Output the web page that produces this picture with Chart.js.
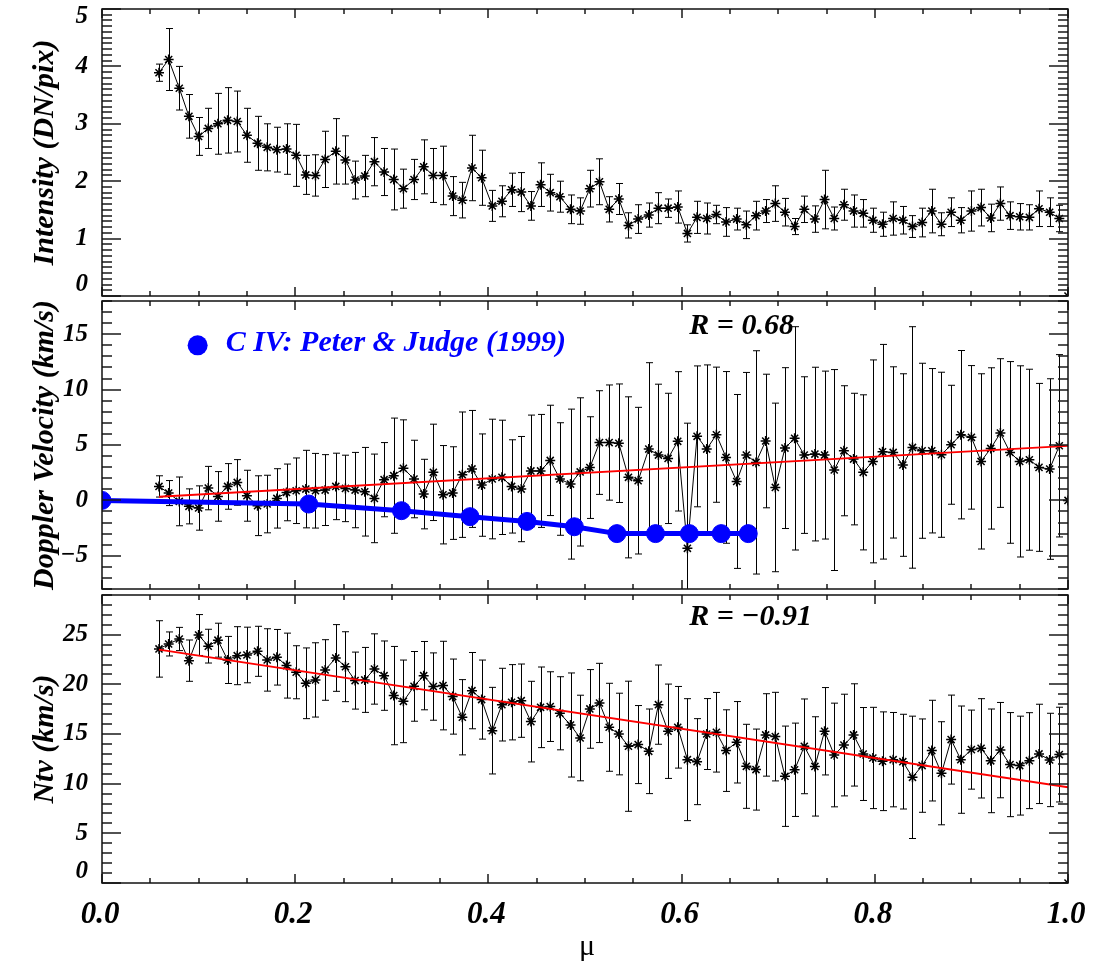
<!DOCTYPE html>
<html>
<head>
<meta charset="utf-8">
<script src="https://cdn.jsdelivr.net/npm/chart.js@4.4.1/dist/chart.umd.min.js"></script>
<style>
  html, body { margin: 0; padding: 0; background: #fff; }
  #wrap { position: relative; width: 1094px; height: 965px; }
  #wrap canvas { position: absolute; left: 0; top: 0; }
</style>
</head>
<body>
<div id="wrap">
  <canvas id="intensity" width="1094" height="965"></canvas>
  <canvas id="doppler" width="1094" height="965"></canvas>
  <canvas id="ntv" width="1094" height="965"></canvas>
</div>
<script>
// mu = cos(theta) of each bin
const mu = [0.059, 0.069, 0.080, 0.090, 0.100, 0.110, 0.120, 0.130, 0.140, 0.150,
  0.161, 0.171, 0.181, 0.191, 0.201, 0.211, 0.221, 0.231, 0.242, 0.252,
  0.262, 0.272, 0.282, 0.292, 0.302, 0.312, 0.323, 0.333, 0.343, 0.353,
  0.363, 0.373, 0.383, 0.393, 0.404, 0.414, 0.424, 0.434, 0.444, 0.454,
  0.464, 0.474, 0.485, 0.495, 0.505, 0.515, 0.525, 0.535, 0.545, 0.555,
  0.566, 0.576, 0.586, 0.596, 0.606, 0.616, 0.626, 0.636, 0.646, 0.657,
  0.667, 0.677, 0.687, 0.697, 0.707, 0.717, 0.727, 0.738, 0.748, 0.758,
  0.768, 0.778, 0.788, 0.798, 0.808, 0.819, 0.829, 0.839, 0.849, 0.859,
  0.869, 0.879, 0.889, 0.900, 0.910, 0.920, 0.930, 0.940, 0.950, 0.960,
  0.970, 0.981, 0.991];

const intensity = [3.89, 4.12, 3.62, 3.13, 2.78, 2.92, 3.00, 3.06, 3.04, 2.80,
  2.66, 2.59, 2.55, 2.56, 2.45, 2.11, 2.10, 2.38, 2.52, 2.37,
  2.02, 2.09, 2.34, 2.16, 2.03, 1.87, 2.03, 2.25, 2.10, 2.10,
  1.74, 1.67, 2.23, 2.06, 1.57, 1.65, 1.85, 1.81, 1.57, 1.94,
  1.80, 1.73, 1.51, 1.48, 1.87, 1.99, 1.51, 1.69, 1.23, 1.34,
  1.41, 1.53, 1.53, 1.55, 1.09, 1.37, 1.35, 1.42, 1.29, 1.34,
  1.24, 1.40, 1.48, 1.61, 1.46, 1.21, 1.51, 1.34, 1.68, 1.35,
  1.59, 1.48, 1.44, 1.32, 1.25, 1.35, 1.32, 1.21, 1.28, 1.48,
  1.25, 1.46, 1.32, 1.48, 1.54, 1.36, 1.61, 1.40, 1.38, 1.37,
  1.52, 1.46, 1.35];
const intensityErr = [0.15, 0.54, 0.38, 0.38, 0.33, 0.35, 0.53, 0.57, 0.53, 0.47,
  0.47, 0.41, 0.39, 0.44, 0.54, 0.34, 0.36, 0.49, 0.57, 0.42,
  0.33, 0.36, 0.42, 0.41, 0.53, 0.34, 0.35, 0.47, 0.47, 0.51,
  0.34, 0.31, 0.57, 0.48, 0.27, 0.27, 0.29, 0.34, 0.25, 0.38,
  0.32, 0.27, 0.25, 0.23, 0.32, 0.40, 0.22, 0.27, 0.22, 0.25,
  0.21, 0.27, 0.16, 0.28, 0.15, 0.28, 0.27, 0.16, 0.25, 0.19,
  0.24, 0.25, 0.20, 0.31, 0.24, 0.14, 0.23, 0.23, 0.51, 0.20,
  0.27, 0.28, 0.24, 0.21, 0.21, 0.29, 0.24, 0.19, 0.25, 0.38,
  0.20, 0.25, 0.22, 0.35, 0.32, 0.24, 0.29, 0.24, 0.23, 0.22,
  0.31, 0.25, 0.23];

const doppler = [1.26, 0.66, -0.09, -0.54, -0.69, 1.11, 0.36, 1.26, 1.62, 0.42,
  -0.48, -0.33, 0.18, 0.72, 0.87, 1.02, 0.87, 0.93, 1.26, 1.08,
  0.93, 0.78, 0.18, 1.87, 2.23, 2.89, 1.93, 0.57, 2.53, 0.51,
  0.66, 2.32, 2.84, 1.38, 1.93, 2.08, 1.26, 1.02, 2.66, 2.66,
  3.61, 1.93, 1.47, 2.57, 2.96, 5.22, 5.22, 5.16, 2.08, 1.78,
  4.63, 4.09, 3.79, 5.33, -4.33, 5.78, 4.63, 5.93, 3.88, 1.71,
  4.09, 3.43, 5.36, 1.17, 4.72, 5.60, 4.09, 4.18, 4.09, 2.74,
  4.48, 3.73, 2.53, 3.52, 4.39, 4.33, 3.19, 4.78, 4.48, 4.48,
  4.12, 5.02, 5.93, 5.69, 3.52, 4.69, 6.08, 4.33, 3.52, 3.67,
  2.98, 2.83, 4.93];
const dopplerErr = [0.96, 1.13, 2.20, 1.58, 2.00, 1.96, 2.24, 2.06, 2.06, 2.30,
  2.70, 2.60, 2.68, 2.56, 2.96, 3.50, 3.37, 3.20, 3.00, 3.00,
  3.40, 4.00, 4.00, 3.35, 5.20, 4.38, 3.50, 3.14, 4.35, 4.44,
  4.18, 5.66, 5.28, 4.62, 5.40, 5.16, 4.21, 4.75, 5.04, 5.10,
  4.98, 5.08, 6.77, 6.69, 4.59, 4.68, 5.20, 5.35, 7.27, 6.62,
  7.80, 6.40, 5.88, 6.29, 11.30, 6.36, 7.60, 6.10, 7.75, 7.85,
  7.46, 10.08, 6.03, 7.61, 7.26, 10.08, 7.07, 7.84, 7.58, 9.07,
  5.87, 5.94, 7.00, 9.16, 9.69, 7.73, 8.24, 10.90, 7.90, 7.42,
  7.45, 5.37, 7.60, 6.48, 7.91, 7.28, 6.71, 8.20, 8.63, 8.17,
  7.58, 8.15, 8.23];

const ntv = [23.57, 24.07, 24.57, 22.39, 24.97, 23.85, 24.45, 22.46, 22.89, 22.96,
  23.33, 22.46, 22.73, 21.89, 21.22, 20.11, 20.45, 21.45, 22.66, 21.78,
  20.38, 20.45, 21.55, 20.88, 18.87, 18.29, 19.80, 20.88, 19.78, 19.88,
  18.77, 16.69, 19.37, 18.47, 15.34, 17.96, 18.20, 18.36, 16.25, 17.69,
  17.76, 17.09, 15.91, 14.60, 17.53, 18.13, 15.68, 15.00, 13.77, 13.94,
  13.26, 17.96, 15.28, 15.68, 12.42, 12.22, 15.00, 15.18, 13.33, 14.17,
  11.75, 11.42, 14.91, 14.74, 10.75, 11.40, 13.76, 11.74, 15.28, 12.89,
  13.89, 14.91, 12.99, 12.59, 12.26, 12.42, 12.22, 10.64, 11.82, 13.33,
  11.05, 14.44, 12.42, 13.43, 13.56, 12.30, 13.38, 11.92, 11.82, 12.32,
  13.00, 12.39, 12.93];
const ntvErr = [2.84, 1.21, 1.17, 2.08, 2.06, 1.70, 1.71, 2.37, 2.92, 2.80,
  2.52, 3.14, 2.80, 3.27, 2.67, 3.56, 3.74, 3.05, 3.36, 3.52,
  2.87, 3.27, 3.54, 3.49, 4.95, 4.16, 3.51, 3.44, 3.39, 4.46,
  3.78, 3.79, 3.84, 3.98, 4.36, 3.66, 3.79, 3.69, 4.06, 4.06,
  3.51, 3.68, 5.24, 4.31, 3.96, 3.99, 4.43, 4.11, 6.55, 3.93,
  4.26, 3.99, 4.75, 4.11, 6.14, 4.33, 3.57, 4.01, 4.11, 4.10,
  4.23, 4.08, 4.15, 4.46, 5.05, 4.70, 4.77, 5.00, 4.40, 5.22,
  5.12, 5.15, 4.68, 5.10, 4.97, 4.75, 4.77, 6.16, 4.70, 5.07,
  5.19, 4.48, 5.40, 3.98, 5.00, 5.22, 4.80, 5.24, 4.98, 4.83,
  5.00, 4.70, 4.77];

// empty bin at disc centre, plotted as zero
const centreMu = [1.0];
const centreValue = [0];

// linear fits
const fitMu = [0.059, 1.0];
const dopplerFit = [0.33, 4.93];
const ntvFit = [23.5, 9.64];

// C IV, Peter & Judge (1999)
const pjMu = [0, 0.214, 0.310, 0.381, 0.440, 0.489, 0.533, 0.573, 0.608, 0.641, 0.669];
const pjVelocity = [0, -0.33, -0.93, -1.47, -1.90, -2.38, -3.0, -3.0, -3.0, -3.0, -3.0];

const xTickValues = [0, 0.2, 0.4, 0.6, 0.8, 1.0];
const xTickLabels = ['0.0', '0.2', '0.4', '0.6', '0.8', '1.0'];
const intensityTicks = [0, 1, 2, 3, 4, 5];
const dopplerTicks = [-5, 0, 5, 10, 15];
const ntvTicks = [0, 5, 10, 15, 20, 25];

const SERIF = '"Liberation Serif", "DejaVu Serif", serif';
const BLUE = '#0000ff';
const RED = '#ff0000';

const pts = (xs, ys) => xs.map((x, i) => ({ x: x, y: ys[i] }));

function starStyle(ds) {
  return Object.assign({
    borderColor: '#000', borderWidth: 1,
    pointStyle: 'star', pointRadius: 5, pointBorderWidth: 1.5,
    pointBorderColor: '#000', pointBackgroundColor: '#000',
    order: 2
  }, ds);
}

function series(ys, errs) {
  return starStyle({ data: pts(mu, ys), yErr: errs });
}

function centre() {
  return starStyle({ data: pts(centreMu, centreValue), showLine: false });
}

function fitLine(ys) {
  return { data: pts(fitMu, ys), borderColor: RED, borderWidth: 1.8, pointRadius: 0, order: 1 };
}

// per-panel axis setup, looked up by canvas id
const axesFor = {};

// inward tick marks on all four sides plus the frame
function drawFrame(ctx, a, o) {
  const w = a.right - a.left;
  const h = a.bottom - a.top;
  ctx.save();
  ctx.fillStyle = '#1a1a1a';
  for (let k = 0; k <= 20; k++) {
    const px = Math.round(a.left + w * k / 20);
    const len = k % 4 === 0 ? 9 : 5;
    ctx.fillRect(px - 0.75, a.bottom - len, 1.5, len);
    ctx.fillRect(px - 0.75, a.top, 1.5, len);
  }
  const ratio = Math.round(o.yMajor / o.yMinor);
  const k0 = Math.ceil(o.yMin / o.yMinor - 1e-6);
  const k1 = Math.floor(o.yMax / o.yMinor + 1e-6);
  for (let k = k0; k <= k1; k++) {
    const py = Math.round(a.bottom - h * (k * o.yMinor - o.yMin) / (o.yMax - o.yMin));
    const len = Math.abs(k % ratio) === 0 ? 19 : 10;
    ctx.fillRect(a.left, py - 0.75, len, 1.5);
    ctx.fillRect(a.right - len, py - 0.75, len, 1.5);
  }
  ctx.strokeStyle = '#111';
  ctx.lineWidth = 1.5;
  ctx.strokeRect(a.left, a.top, w, h);
  ctx.restore();
}

// IDL-style panel: error bars, frame, labels
const idlAxes = {
  id: 'idlAxes',
  beforeDatasetsDraw(chart) {
    const { ctx, chartArea: a, scales: { x, y } } = chart;
    ctx.save();
    ctx.beginPath();
    ctx.rect(a.left, a.top, a.right - a.left, a.bottom - a.top);
    ctx.clip();
    ctx.strokeStyle = '#000';
    ctx.lineWidth = 1;
    chart.data.datasets.forEach(ds => {
      if (!ds.yErr) return;
      ds.data.forEach((p, i) => {
        const px = Math.round(x.getPixelForValue(p.x)) + 0.5;
        const hi = y.getPixelForValue(p.y + ds.yErr[i]);
        const lo = y.getPixelForValue(p.y - ds.yErr[i]);
        ctx.beginPath();
        ctx.moveTo(px, hi); ctx.lineTo(px, lo);
        ctx.moveTo(px - 3.5, hi); ctx.lineTo(px + 3.5, hi);
        ctx.moveTo(px - 3.5, lo); ctx.lineTo(px + 3.5, lo);
        ctx.stroke();
      });
    });
    ctx.restore();
  },
  afterDraw(chart) {
    const o = axesFor[chart.canvas.id];
    const { ctx, chartArea: a, scales: { x, y } } = chart;
    drawFrame(ctx, a, o);
    ctx.save();

    // y tick labels, kept inside the panel's height
    ctx.fillStyle = '#000';
    ctx.font = 'bold italic 25px ' + SERIF;
    ctx.textAlign = 'right';
    ctx.textBaseline = 'middle';
    o.yTicks.forEach(v => {
      const py = Math.min(Math.max(y.getPixelForValue(v), a.top + 8), a.bottom - 11);
      ctx.fillText(String(v).replace('-', '\u2212'), a.left - 14, py);
    });

    // y title
    ctx.save();
    ctx.translate(45, (a.top + a.bottom) / 2);
    ctx.rotate(-Math.PI / 2);
    ctx.textAlign = 'center';
    ctx.font = 'bold italic 30px ' + SERIF;
    ctx.fillText(o.title, 0, 0);
    ctx.restore();

    // x labels on the bottom panel
    if (o.xLabels) {
      ctx.textAlign = 'center';
      ctx.textBaseline = 'alphabetic';
      ctx.font = 'bold italic 31px ' + SERIF;
      xTickValues.forEach((v, i) => {
        ctx.fillText(xTickLabels[i], x.getPixelForValue(v) - 2, a.bottom + 40);
      });
      ctx.font = '30px ' + SERIF;
      ctx.fillText('\u03bc', (a.left + a.right) / 2 + 2, a.bottom + 72);
    }

    // text notes placed in data coordinates
    ctx.textAlign = 'left';
    ctx.textBaseline = 'alphabetic';
    ctx.font = 'bold italic 30px ' + SERIF;
    (o.notes || []).forEach(n => {
      ctx.fillStyle = n.color || '#000';
      ctx.fillText(n.text, x.getPixelForValue(n.x), y.getPixelForValue(n.y));
    });

    if (o.key) {
      ctx.fillStyle = o.key.color;
      ctx.beginPath();
      ctx.arc(x.getPixelForValue(o.key.x), y.getPixelForValue(o.key.y), 10, 0, Math.PI * 2);
      ctx.fill();
    }
    ctx.restore();
  }
};

function panel(id, pad, yMin, yMax, datasets, axes) {
  axesFor[id] = Object.assign({ yMin: yMin, yMax: yMax }, axes);
  return new Chart(document.getElementById(id), {
    type: 'line',
    data: { datasets: datasets },
    options: {
      responsive: false,
      animation: false,
      events: [],
      layout: { padding: Object.assign({ left: 102, right: 26 }, pad) },
      scales: {
        x: { type: 'linear', min: 0, max: 1, display: false },
        y: { type: 'linear', min: yMin, max: yMax, display: false }
      },
      plugins: {
        legend: { display: false },
        tooltip: { enabled: false }
      }
    },
    plugins: [idlAxes]
  });
}

const chartIntensity = panel('intensity', { top: 9, bottom: 669 }, 0, 5,
  [series(intensity, intensityErr), centre()],
  { title: 'Intensity (DN/pix)', yTicks: intensityTicks, yMajor: 1, yMinor: 0.1 });

const chartDoppler = panel('doppler', { top: 301, bottom: 376 }, -8, 18,
  [
    series(doppler, dopplerErr),
    centre(),
    fitLine(dopplerFit),
    {
      data: pts(pjMu, pjVelocity),
      borderColor: BLUE, borderWidth: 5,
      pointStyle: 'circle', pointRadius: 9, pointBorderWidth: 1,
      pointBackgroundColor: BLUE, pointBorderColor: BLUE,
      order: 0
    }
  ],
  {
    title: 'Doppler Velocity (km/s)', yTicks: dopplerTicks, yMajor: 5, yMinor: 1,
    notes: [
      { text: 'R = 0.68', x: 0.608, y: 15.0 },
      { text: 'C IV: Peter & Judge (1999)', x: 0.128, y: 13.5, color: BLUE }
    ],
    key: { x: 0.099, y: 14.0, color: BLUE }
  });

const chartNtv = panel('ntv', { top: 595, bottom: 82 }, 0, 29,
  [series(ntv, ntvErr), centre(), fitLine(ntvFit)],
  {
    title: 'Ntv (km/s)', yTicks: ntvTicks, yMajor: 5, yMinor: 1, xLabels: true,
    notes: [{ text: 'R = \u22120.91', x: 0.608, y: 26.0 }]
  });
</script>
</body>
</html>
